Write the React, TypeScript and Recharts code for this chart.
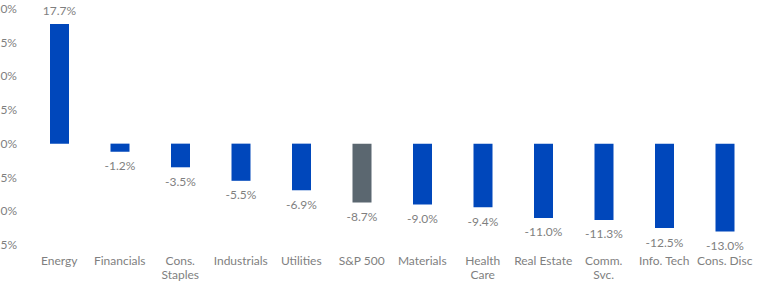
import React from 'react'
import { BarChart, Bar, XAxis, YAxis, Cell, LabelList } from 'recharts'

const sectors = [
  'Energy',
  'Financials',
  'Cons.\nStaples',
  'Industrials',
  'Utilities',
  'S&P 500',
  'Materials',
  'Health\nCare',
  'Real Estate',
  'Comm.\nSvc.',
  'Info. Tech',
  'Cons. Disc',
]
const returns = [17.7, -1.2, -3.5, -5.5, -6.9, -8.7, -9.0, -9.4, -11.0, -11.3, -12.5, -13.0]
const yTicks = [-15, -10, -5, 0, 5, 10, 15, 20]

const BLUE = '#0047bb'
const GREY_BAR = '#5b6770'
const TEXT = '#7f7f7f'
const FONT = 'Lato, "Open Sans", sans-serif'

const data = sectors.map((name, i) => ({ name, value: returns[i] }))

function CategoryTick({ x, y, payload }: any) {
  const lines = String(payload.value).split('\n')
  return (
    <text x={x} y={y} textAnchor="middle" fill={TEXT} fontSize={12} fontFamily={FONT}>
      {lines.map((line, i) => (
        <tspan key={i} x={x} dy={i === 0 ? 12 : 14}>
          {line}
        </tspan>
      ))}
    </text>
  )
}

function ValueLabel({ x, y, width, height, value }: any) {
  const top = Math.min(y, y + height)
  const bottom = Math.max(y, y + height)
  const v = Number(value)
  const ty = v >= 0 ? top - 9 : bottom + 18.5
  return (
    <text x={x + width / 2} y={ty} textAnchor="middle" fill={TEXT} fontSize={12} fontFamily={FONT}>
      {v.toFixed(1)}%
    </text>
  )
}

export default function App() {
  return (
    <div style={{ position: 'fixed', left: 0, top: 0, width: 776, height: 287, overflow: 'hidden', background: '#fff' }}>
      <div style={{ position: 'absolute', left: -30, top: 0 }}>
        <BarChart width={806} height={287} data={data} margin={{ top: 8.5, right: 21, bottom: 0, left: 0 }}>
          <XAxis
            dataKey="name"
            axisLine={false}
            tickLine={false}
            interval={0}
            height={42}
            tick={<CategoryTick />}
          />
          <YAxis
            domain={[-15, 20]}
            ticks={yTicks}
            width={59}
            axisLine={false}
            tickLine={false}
            tickMargin={6}
            tick={{ fill: TEXT, fontSize: 12, fontFamily: FONT }}
            tickFormatter={(v: number) => `${v}%`}
          />
          <Bar dataKey="value" barSize={19} isAnimationActive={false}>
            {data.map((d, i) => (
              <Cell key={i} fill={d.name === 'S&P 500' ? GREY_BAR : BLUE} />
            ))}
            <LabelList dataKey="value" content={<ValueLabel />} />
          </Bar>
        </BarChart>
      </div>
    </div>
  )
}
